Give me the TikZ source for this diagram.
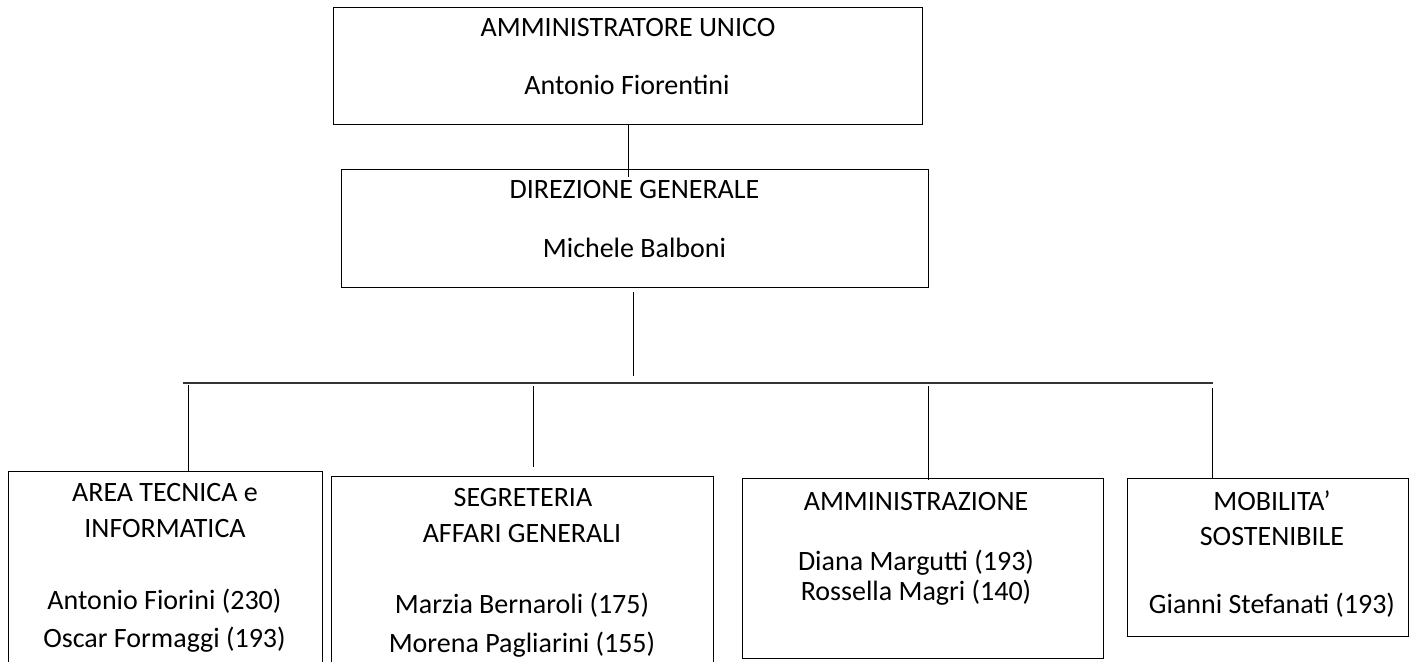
\documentclass[tikz,border=0pt]{standalone}
\usepackage{fontspec}
\setmainfont{Carlito}
\tikzset{
  box/.style={draw,line width=1pt,inner sep=0pt},
  lbl/.style={anchor=base,inner sep=0pt,font=\fontsize{28}{33}\selectfont},
}
\begin{document}
\begin{tikzpicture}[x=1pt,y=-1pt,line width=1pt]
	\useasboundingbox (0,0) rectangle (1421,661);
	\clip (0,0) rectangle (1421,661);
	% boxes
	\node[box,minimum width=589pt,minimum height=116pt] (amm) at (627.5,66) {};
	\node[box,minimum width=587pt,minimum height=118pt] (dir) at (634.5,228) {};
	\node[box,minimum width=314pt,minimum height=260pt] (tec) at (165,601) {};
	\node[box,minimum width=382pt,minimum height=260pt] (seg) at (522,606) {};
	\node[box,minimum width=361pt,minimum height=180pt] (ammz) at (922.5,568) {};
	\node[box,minimum width=281pt,minimum height=158pt] (mob) at (1267.5,557) {};
	% texts
	\node[lbl] (ammT) at (628,37) {AMMINISTRATORE UNICO};
	\node[lbl] (ammN) at (627,94) {Antonio Fiorentini};
	\node[lbl] (dirT) at (634.5,198) {DIREZIONE GENERALE};
	\node[lbl] (dirN) at (634.5,257) {Michele Balboni};
	\node[lbl] (tecT) at (165,501) {AREA TECNICA e};
	\node[lbl] (tecU) at (165,537) {INFORMATICA};
	\node[lbl] (tecA) at (164.5,609) {Antonio Fiorini (230)};
	\node[lbl] (tecB) at (164.5,647) {Oscar Formaggi (193)};
	\node[lbl] (segT) at (523,506) {SEGRETERIA};
	\node[lbl] (segU) at (522,542) {AFFARI GENERALI};
	\node[lbl] (segA) at (522,613) {Marzia Bernaroli (175)};
	\node[lbl] (segB) at (522,652) {Morena Pagliarini (155)};
	\node[lbl] (ammzT) at (916,510) {AMMINISTRAZIONE};
	\node[lbl] (ammzA) at (916,570) {Diana Margutti (193)};
	\node[lbl] (ammzB) at (916,600) {Rossella Magri (140)};
	\node[lbl] (mobT) at (1272,510) {MOBILITA’};
	\node[lbl] (mobU) at (1272,545) {SOSTENIBILE};
	\node[lbl] (mobA) at (1272,613) {Gianni Stefanati (193)};
	% connectors
	\coordinate (ammB) at (628,124);
	\coordinate (dirT0) at (628,177);
	\coordinate (dirB) at (633,292);
	\coordinate (barC) at (633,376);
	\coordinate (barL) at (183,383);
	\coordinate (barR) at (1213,383);
	\coordinate (tecD) at (188,385);
	\coordinate (segU0) at (533,386);
	\coordinate (segD) at (533,467);
	\coordinate (ammzU) at (928,386);
	\coordinate (ammzD) at (928,480);
	\coordinate (mobD) at (1212,388);
	\draw (ammB) -- (dirT0);
	\draw (dirB) -- (barC);
	\draw[line width=2pt,black!80] (barL) -- (barR);
	\draw (tecD) -- (tecD |- tec.north);
	\draw (segU0) -- (segD);
	\draw (ammzU) -- (ammzD);
	\draw (mobD) -- (mobD |- mob.north);
\end{tikzpicture}
\end{document}
